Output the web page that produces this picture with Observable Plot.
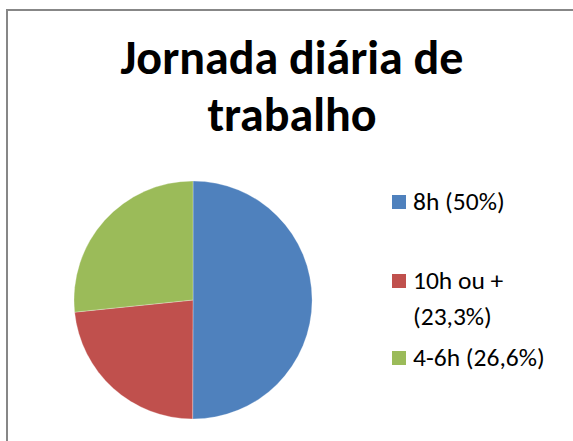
<!DOCTYPE html>
<html><head><meta charset="utf-8">
<script src="https://cdn.jsdelivr.net/npm/d3@7"></script>
<script src="https://cdn.jsdelivr.net/npm/@observablehq/plot@0.6"></script>
<style>
html,body{margin:0;padding:0;background:#fff;}
#chart{position:relative;width:573px;height:441px;overflow:hidden;font-family:Carlito,Calibri,Lato,"Open Sans",sans-serif;color:#000;}
#frame{position:absolute;left:6px;top:9px;width:620px;height:520px;border:2px solid #878787;box-sizing:border-box;}
#title{position:absolute;left:102px;width:380px;top:29px;text-align:center;font-weight:bold;font-size:48px;line-height:57px;}
#plot{position:absolute;left:0;top:0;}
.item{position:absolute;left:392px;display:flex;align-items:flex-start;}
.sw{width:14px;height:14px;margin-top:11px;flex:none;}
.lab{margin-left:7px;font-size:25.5px;line-height:36px;width:152px;}
</style>
</head><body>
<div id="chart">
  <div id="frame"></div>
  <div id="title">Jornada diária de trabalho</div>
  <div id="plot"></div>
  <div id="legend"></div>
</div>
<script>
// Data
const categories = ["8h", "10h ou +", "4-6h"];
const shares = [50, 23.3, 26.6];
const legendLabels = ["8h (50%)", "10h ou + (23,3%)", "4-6h (26,6%)"];
const sliceColors = ["#4F81BD", "#C0504D", "#9BBB59"];

const data = categories.map((c, i) => ({category: c, value: shares[i], label: legendLabels[i]}));
const color = Plot.scale({color: {type: "ordinal", domain: categories, range: sliceColors}});

function pieMark(index, scales, values, dimensions) {
  const {width, height, marginLeft, marginRight, marginTop, marginBottom} = dimensions;
  const w = width - marginLeft - marginRight;
  const h = height - marginTop - marginBottom;
  const cx = marginLeft + w / 2, cy = marginTop + h / 2;
  const r = Math.min(w, h) / 2;
  const arcs = d3.pie().sort(null).value(d => d.value)(data);
  const arc = d3.arc().innerRadius(0).outerRadius(r);
  const g = d3.create("svg:g").attr("transform", `translate(${cx},${cy})`);
  g.selectAll("path").data(arcs).join("path")
    .attr("d", arc)
    .attr("fill", d => color.apply(d.data.category))
    .attr("stroke", "#ffffff").attr("stroke-opacity", 0.35).attr("stroke-width", 0.8);
  return g.node();
}

const chart = Plot.plot({
  width: 573,
  height: 441,
  marginLeft: 74,
  marginRight: 261,
  marginTop: 181,
  marginBottom: 22,
  style: {background: "transparent", overflow: "visible"},
  marks: [pieMark]
});
document.getElementById("plot").appendChild(chart);

// Legend
const legendTops = [184, 263, 340];
const legend = document.getElementById("legend");
data.forEach((d, i) => {
  const item = document.createElement("div");
  item.className = "item";
  item.style.top = legendTops[i] + "px";
  const sw = document.createElement("div");
  sw.className = "sw";
  sw.style.background = color.apply(d.category);
  const lab = document.createElement("div");
  lab.className = "lab";
  lab.textContent = d.label;
  item.appendChild(sw);
  item.appendChild(lab);
  legend.appendChild(item);
});
</script>
</body></html>
